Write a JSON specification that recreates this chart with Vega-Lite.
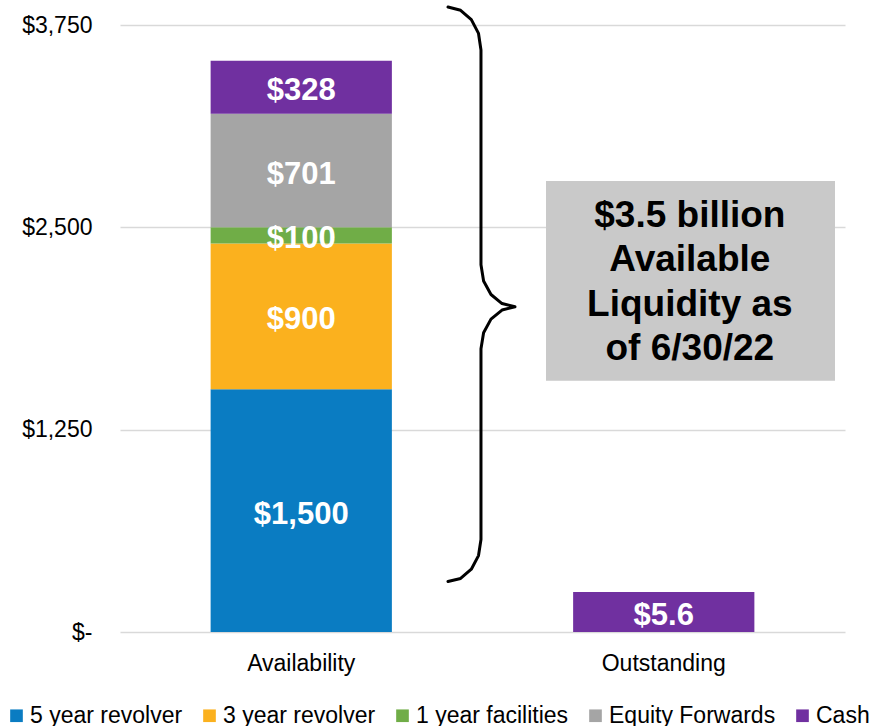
{
  "$schema": "https://vega.github.io/schema/vega-lite/v6.json",
  "width": 725,
  "height": 607,
  "autosize": "none",
  "padding": {"left": 120, "top": 25, "right": 24, "bottom": 94},
  "config": {
    "font": "Liberation Sans",
    "view": {"stroke": null},
    "axisY": {
      "grid": true, "gridColor": "#D9D9D9", "gridWidth": 1.5,
      "domain": false, "ticks": false,
      "labelFontSize": 23, "labelColor": "#000000", "labelPadding": 28
    }
  },
  "datasets": {
    "bars": [
      {"category": "Availability", "series": "5 year revolver", "value": 1500, "label": "$1,500", "order": 1},
      {"category": "Availability", "series": "3 year revolver", "value": 900, "label": "$900", "order": 2},
      {"category": "Availability", "series": "1 year facilities", "value": 100, "label": "$100", "order": 3},
      {"category": "Availability", "series": "Equity Forwards", "value": 701, "label": "$701", "order": 4},
      {"category": "Availability", "series": "Cash", "value": 328, "label": "$328", "order": 5},
      {"category": "Outstanding", "series": "Cash", "value": 247, "label": "$5.6", "order": 5}
    ],
    "brace": [
      {"i": 1, "bx": 45.24, "by": 3861},
      {"i": 2, "bx": 46.98, "by": 3841},
      {"i": 3, "bx": 48.46, "by": 3783},
      {"i": 4, "bx": 49.45, "by": 3698},
      {"i": 5, "bx": 49.79, "by": 3596},
      {"i": 6, "bx": 49.79, "by": 2269},
      {"i": 7, "bx": 50.15, "by": 2169},
      {"i": 8, "bx": 51.17, "by": 2085},
      {"i": 9, "bx": 52.69, "by": 2029},
      {"i": 10, "bx": 54.48, "by": 2009},
      {"i": 11, "bx": 52.69, "by": 1989},
      {"i": 12, "bx": 51.17, "by": 1933},
      {"i": 13, "bx": 50.15, "by": 1849},
      {"i": 14, "bx": 49.79, "by": 1750},
      {"i": 15, "bx": 49.79, "by": 571},
      {"i": 16, "bx": 49.45, "by": 472},
      {"i": 17, "bx": 48.46, "by": 388},
      {"i": 18, "bx": 46.98, "by": 331},
      {"i": 19, "bx": 45.24, "by": 312}
    ]
  },
  "layer": [
    {
      "data": {"name": "bars"},
      "encoding": {
        "x": {
          "field": "category", "type": "nominal", "sort": ["Availability", "Outstanding"],
          "scale": {"paddingInner": 0.5, "paddingOuter": 0.25},
          "axis": {"title": null, "labelAngle": 0, "domain": false, "ticks": false, "labelFontSize": 23, "labelColor": "#000000", "labelPadding": 20}
        }
      },
      "layer": [
        {
          "mark": {"type": "bar"},
          "encoding": {
            "y": {
              "field": "value", "type": "quantitative", "stack": "zero",
              "scale": {"domain": [0, 3750], "nice": false},
              "axis": {"title": null, "values": [0, 1250, 2500, 3750], "labelExpr": "datum.value === 0 ? '$-' : '$' + format(datum.value, ',')"}
            },
            "order": {"field": "order", "type": "quantitative", "sort": "ascending"},
            "color": {
              "field": "series", "type": "nominal",
              "scale": {
                "domain": ["5 year revolver", "3 year revolver", "1 year facilities", "Equity Forwards", "Cash"],
                "range": ["#0A7CC2", "#FBB11E", "#70AD47", "#A5A5A5", "#7030A0"]
              },
              "legend": {
                "title": null, "orient": "none", "direction": "horizontal",
                "legendX": -115, "legendY": 679,
                "symbolType": "square", "symbolSize": 160, "symbolStrokeWidth": 0,
                "labelFontSize": 23, "labelColor": "#000000", "labelOffset": 2, "labelLimit": 0, "columnPadding": 15
              }
            }
          }
        },
        {
          "mark": {"type": "text", "fontWeight": "bold", "fontSize": 31, "color": "#FFFFFF", "baseline": "middle", "dy": 4},
          "encoding": {
            "y": {"field": "value", "type": "quantitative", "stack": "zero", "bandPosition": 0.5, "scale": {"domain": [0, 3750], "nice": false}, "title": null},
            "order": {"field": "order", "type": "quantitative", "sort": "ascending"},
            "detail": {"field": "series"},
            "text": {"field": "label"}
          }
        }
      ]
    },
    {
      "layer": [
        {
          "data": {"values": [{}]},
          "mark": {"type": "rect", "color": "#C9C9C9"},
          "encoding": {
            "x": {"datum": 58.76, "type": "quantitative", "scale": {"domain": [0, 100], "nice": false}, "axis": null},
            "x2": {"datum": 98.62},
            "y": {"datum": 1552, "type": "quantitative", "scale": {"domain": [0, 3750], "nice": false}, "title": null},
            "y2": {"datum": 2787}
          }
        },
        {
          "data": {"values": [{}]},
          "mark": {"type": "text", "text": ["$3.5 billion", "Available", "Liquidity as", "of 6/30/22"], "fontSize": 37, "fontWeight": "bold", "color": "#000000", "align": "center", "baseline": "middle", "lineHeight": 44.5},
          "encoding": {
            "x": {"datum": 78.6, "type": "quantitative", "scale": {"domain": [0, 100], "nice": false}, "axis": null},
            "y": {"datum": 2572, "type": "quantitative", "scale": {"domain": [0, 3750], "nice": false}, "title": null}
          }
        },
        {
          "data": {"name": "brace"},
          "mark": {"type": "line", "color": "#000000", "strokeWidth": 3, "strokeCap": "round", "strokeJoin": "round"},
          "encoding": {
            "x": {"field": "bx", "type": "quantitative", "scale": {"domain": [0, 100], "nice": false}, "axis": null},
            "y": {"field": "by", "type": "quantitative", "scale": {"domain": [0, 3750], "nice": false}, "title": null},
            "order": {"field": "i", "type": "quantitative"}
          }
        }
      ]
    }
  ],
  "resolve": {"scale": {"x": "independent"}}
}
